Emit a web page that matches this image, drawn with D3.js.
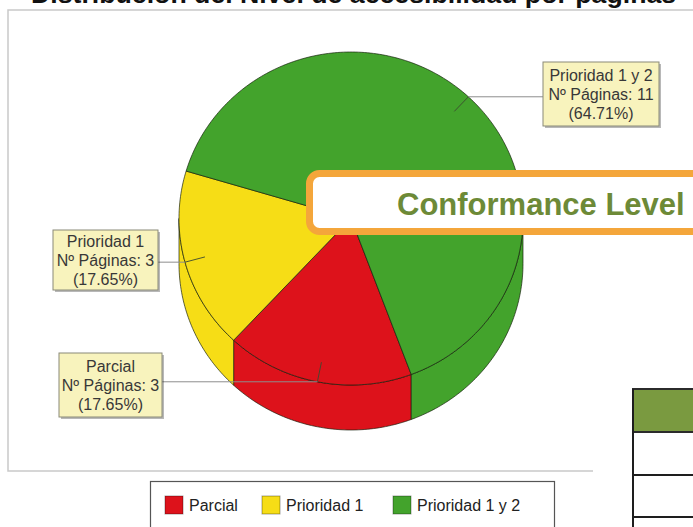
<!DOCTYPE html>
<html>
<head>
<meta charset="utf-8">
<script src="https://cdn.jsdelivr.net/npm/d3@7/dist/d3.min.js"></script>
<style>
  html, body { margin: 0; padding: 0; background: #fff; }
  svg { display: block; }
</style>
</head>
<body>
<svg id="chart" width="693" height="527"></svg>
<script>
// Accessibility level distribution by page
const categories = ["Parcial", "Prioridad 1", "Prioridad 1 y 2"];
const pages = [3, 3, 11];
const sliceColors = ["#dd121b", "#f6dd16", "#43a32c"];
const chartTitle = "Distribución del Nivel de accesibilidad por páginas";
const bannerText = "Conformance Level";

const W = 693, H = 527;
const svg = d3.select("#chart");
const total = d3.sum(pages);
const rad = deg => deg * Math.PI / 180;

// ---- chart frame and title ----
svg.append("path")
  .attr("d", "M693,10 H8 V471 H593")
  .attr("fill", "none").attr("stroke", "#c9c9c9").attr("stroke-width", 1.5);

svg.append("text")
  .attr("x", 31).attr("y", 3)
  .attr("font-family", "Liberation Sans, Arial, sans-serif")
  .attr("font-weight", "bold").attr("font-size", 26.7)
  .attr("fill", "#111")
  .text(chartTitle);

// ---- 3D pie geometry ----
const cx = 351, cy = 218.5, rx = 172, ry = 166.5, depth = 45;
const sx = d3.scaleLinear().domain([-1, 1]).range([cx - rx, cx + rx]);
const sy = d3.scaleLinear().domain([-1, 1]).range([cy + ry, cy - ry]);
const pt = (a, r = 1, dz = 0) => [sx(r * Math.sin(a)), sy(r * Math.cos(a)) + dz];

const color = d3.scaleOrdinal().domain(categories).range(sliceColors);
const start = rad(159.5);
const pie = d3.pie().sort(null).value(d => d.v)
  .startAngle(start).endAngle(start + 2 * Math.PI);
const arcs = pie(categories.map((c, i) => ({ c, v: pages[i] })));

function arcPts(a0, a1, dz = 0) {
  const n = Math.max(2, Math.ceil((a1 - a0) / rad(1)) + 1);
  return d3.range(n).map(k => pt(a0 + (a1 - a0) * k / (n - 1), 1, dz));
}
const line = d3.line();

// side walls (front-facing part: angle between 90° and 270°)
const sides = svg.append("g");
arcs.forEach(d => {
  [0, 1].forEach(k => {
    const lo = Math.max(d.startAngle, rad(90) + 2 * Math.PI * k);
    const hi = Math.min(d.endAngle, rad(270) + 2 * Math.PI * k);
    if (hi <= lo) return;
    const top = arcPts(lo, hi, 0);
    const bot = arcPts(lo, hi, depth).reverse();
    sides.append("path")
      .attr("d", line(top.concat(bot)) + "Z")
      .attr("fill", color(d.data.c))
      .attr("stroke", "rgba(20,30,10,0.75)").attr("stroke-width", 0.9)
      .attr("stroke-linejoin", "round");
  });
});

// top faces
const tops = svg.append("g");
arcs.forEach(d => {
  const p = [[cx, cy]].concat(arcPts(d.startAngle, d.endAngle, 0));
  tops.append("path")
    .attr("d", line(p) + "Z")
    .attr("fill", color(d.data.c))
    .attr("stroke", "rgba(20,30,10,0.75)").attr("stroke-width", 0.9)
    .attr("stroke-linejoin", "round");
});

// ---- callout labels ----
const labelBoxes = [
  { x: 59, y: 353, w: 103, h: 64, side: "right" },
  { x: 53, y: 230, w: 105, h: 60, side: "right" },
  { x: 543, y: 62, w: 116, h: 64, side: "left" }
];
const callouts = svg.append("g");
arcs.forEach((d, i) => {
  const mid = (d.startAngle + d.endAngle) / 2;
  const rim = pt(mid, 1);
  const inner = pt(mid, 0.88);
  const b = labelBoxes[i];
  const ex = b.side === "right" ? b.x + b.w : b.x;
  callouts.append("path")
    .attr("d", line([inner, rim]))
    .attr("stroke", "#3b4a30").attr("stroke-width", 0.9).attr("fill", "none");
  callouts.append("path")
    .attr("d", line([rim, [ex, rim[1]]]))
    .attr("stroke", "#8d8d8d").attr("stroke-width", 1).attr("fill", "none");

  callouts.append("rect")
    .attr("x", b.x + 2).attr("y", b.y + 2).attr("width", b.w).attr("height", b.h)
    .attr("fill", "rgba(0,0,0,0.28)");
  callouts.append("rect")
    .attr("x", b.x).attr("y", b.y).attr("width", b.w).attr("height", b.h)
    .attr("fill", "#f8f3bd").attr("stroke", "#8a8a78").attr("stroke-width", 1);

  const pct = (d.data.v / total * 100).toFixed(2);
  const lines = [d.data.c, "Nº Páginas: " + d.data.v, "(" + pct + "%)"];
  const my = b.y + b.h / 2;
  lines.forEach((t, j) => {
    callouts.append("text")
      .attr("x", b.x + b.w / 2).attr("y", my + 6 + (j - 1) * 19)
      .attr("text-anchor", "middle")
      .attr("font-family", "Liberation Sans, Arial, sans-serif")
      .attr("font-size", 16).attr("fill", "#383838")
      .text(t);
  });
});

// ---- legend ----
const legend = svg.append("g");
legend.append("rect")
  .attr("x", 150.5).attr("y", 481.5).attr("width", 404).attr("height", 60)
  .attr("fill", "#fff").attr("stroke", "#555").attr("stroke-width", 1.2);
const legendX = [165, 262, 393];
categories.forEach((c, i) => {
  legend.append("rect")
    .attr("x", legendX[i]).attr("y", 496).attr("width", 18).attr("height", 18)
    .attr("fill", color(c)).attr("stroke", "rgba(0,0,0,0.35)").attr("stroke-width", 1);
  legend.append("text")
    .attr("x", legendX[i] + 24).attr("y", 511)
    .attr("font-family", "Liberation Sans, Arial, sans-serif")
    .attr("font-size", 16).attr("fill", "#222")
    .text(c);
});

// ---- overlaid banner ----
svg.append("rect")
  .attr("x", 309.5).attr("y", 173.5).attr("width", 430).attr("height", 58)
  .attr("rx", 10).attr("ry", 10)
  .attr("fill", "#fff").attr("stroke", "#f4a63b").attr("stroke-width", 7);
svg.append("text")
  .attr("x", 397).attr("y", 215)
  .attr("font-family", "Liberation Sans, Arial, sans-serif")
  .attr("font-weight", "bold").attr("font-size", 31)
  .attr("fill", "#6d8a37")
  .text(bannerText);

// ---- table fragment at right ----
const table = svg.append("g");
table.append("rect")
  .attr("x", 633).attr("y", 389).attr("width", 70).attr("height", 43)
  .attr("fill", "#7a9a40").attr("stroke", "#2b2b2b").attr("stroke-width", 2);
table.append("path")
  .attr("d", "M633,389 V527 M633,475 H693 M633,517 H693")
  .attr("stroke", "#1e1e1e").attr("stroke-width", 2).attr("fill", "none");
</script>
</body>
</html>
